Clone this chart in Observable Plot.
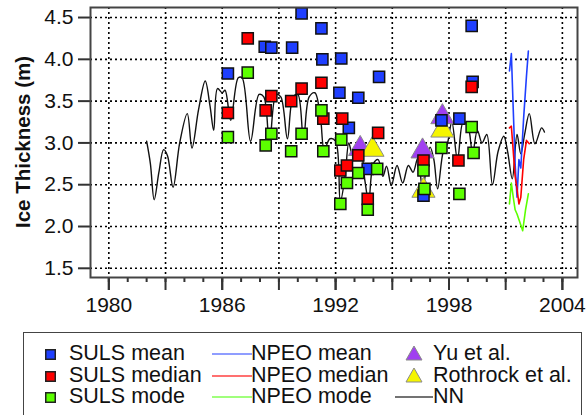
<!DOCTYPE html>
<html><head><meta charset="utf-8">
<script src="https://cdn.jsdelivr.net/npm/d3@7"></script>
<script src="https://cdn.jsdelivr.net/npm/@observablehq/plot@0.6"></script>
<style>
body{margin:0;background:#fff;font-family:"Liberation Sans",Arial,sans-serif;}
#chart{position:absolute;left:0;top:0;}
.lg{position:absolute;font-size:21.5px;line-height:18px;color:#111;white-space:nowrap;}
.sw{position:absolute;overflow:visible;}
#lgbox{position:absolute;left:23px;top:332px;width:559px;height:100px;border:1.5px solid #444;box-sizing:border-box;}
</style></head><body>
<div id="chart"></div>
<div id="lgbox"></div>
<div id="legend"></div>
<script>
// ---- data ----
const sulsMeanYear = [1986.3, 1988.25, 1988.6, 1989.7, 1990.2, 1991.25, 1991.3, 1992.3, 1992.2, 1993.2, 1992.7, 1993.7, 1994.3, 1996.65, 1997.6, 1998.55, 1999.2, 1999.25];
const sulsMean     = [3.83, 4.15, 4.14, 4.14, 4.55, 4.37, 4.00, 4.01, 3.60, 3.54, 3.18, 2.69, 3.79, 2.37, 3.27, 3.29, 4.40, 3.73];

const sulsMedianYear = [1986.3, 1987.35, 1988.3, 1988.6, 1989.65, 1990.2, 1991.25, 1991.35, 1992.35, 1992.25, 1992.6, 1993.2, 1993.7, 1994.25, 1996.65, 1998.5, 1999.2];
const sulsMedian     = [3.36, 4.25, 3.39, 3.56, 3.50, 3.65, 3.72, 3.29, 3.29, 2.67, 2.73, 2.85, 2.33, 3.12, 2.79, 2.79, 3.67];

const sulsModeYear = [1986.3, 1987.35, 1988.3, 1988.6, 1989.65, 1990.2, 1991.25, 1991.35, 1992.3, 1992.25, 1992.6, 1993.2, 1993.7, 1994.2, 1996.65, 1996.7, 1997.6, 1998.55, 1999.2, 1999.3];
const sulsMode     = [3.07, 3.84, 2.97, 3.11, 2.90, 3.11, 3.39, 2.90, 3.04, 2.27, 2.52, 2.64, 2.20, 2.69, 2.67, 2.45, 2.94, 2.39, 3.19, 2.88];

const yuYear = [1993.3, 1996.6, 1997.65];
const yu     = [2.93, 2.90, 3.31];
const rothrockYear = [1993.95, 1996.65, 1997.65];
const rothrock     = [2.92, 2.43, 3.15];

const npeoMeanYear = [2001.2, 2001.3, 2001.4, 2001.5, 2001.6, 2001.7, 2001.8, 2001.95, 2002.1, 2002.2];
const npeoMean     = [3.86, 4.07, 3.40, 2.75, 2.35, 2.80, 2.70, 3.30, 3.80, 4.10];
const npeoMedianYear = [2001.2, 2001.3, 2001.4, 2001.5, 2001.6, 2001.7, 2001.8, 2001.95, 2002.1, 2002.25];
const npeoMedian     = [3.18, 3.20, 2.90, 2.60, 2.45, 2.27, 2.35, 2.80, 3.03, 2.99];
const npeoModeYear = [2001.2, 2001.3, 2001.4, 2001.5, 2001.6, 2001.75, 2001.9, 2002.05, 2002.2];
const npeoMode     = [2.27, 2.52, 2.35, 2.20, 2.15, 2.05, 1.95, 2.20, 2.39];

const nnYear = [1982.0,1982.2,1982.4,1982.65,1982.9,1983.1,1983.4,1983.75,1984.15,1984.4,1984.75,1985.1,1985.35,1985.55,1985.75,1986.0,1986.15,1986.45,1986.85,1987.05,1987.5,1987.95,1988.2,1988.5,1988.85,1989.1,1989.45,1989.75,1990.0,1990.3,1990.6,1990.9,1991.2,1991.4,1991.7,1992.0,1992.25,1992.5,1992.7,1992.9,1993.1,1993.3,1993.55,1993.75,1994.0,1994.25,1994.5,1994.7,1994.95,1995.25,1995.55,1995.85,1996.1,1996.35,1996.6,1996.8,1997.0,1997.2,1997.4,1997.7,1997.9,1998.15,1998.45,1998.75,1999.0,1999.25,1999.5,1999.75,2000.0,2000.3,2000.6,2000.9,2001.1,2001.35,2001.6,2001.8,2002.0,2002.25,2002.55,2002.9,2003.05];
const nnValue = [3.02,2.75,2.32,2.65,2.92,2.85,2.47,3.00,3.35,2.94,3.40,3.74,3.45,3.15,3.65,3.60,3.63,3.27,3.78,3.78,3.02,3.58,3.55,3.00,3.58,3.55,3.05,3.55,3.58,3.05,3.55,3.60,3.30,2.92,3.05,3.02,2.30,2.60,3.00,2.85,2.90,2.95,2.55,2.30,2.75,2.80,2.60,2.72,2.49,2.73,2.52,2.73,2.65,2.82,2.45,2.70,2.95,2.80,2.45,2.90,2.98,3.25,2.80,3.25,3.20,2.88,3.15,3.00,3.10,2.50,2.90,3.08,2.90,2.57,3.10,2.87,3.10,3.35,2.99,3.18,3.13];

const yTicks = [1.5, 2.0, 2.5, 3.0, 3.5, 4.0, 4.5];
const xGridTicks = [1980, 1983, 1986, 1989, 1992, 1995, 1998, 2001, 2004];
const xLabelTicks = [1980, 1986, 1992, 1998, 2004];
const xMinorTicks = d3.range(1980, 2005);

const legendCol1 = ["SULS mean", "SULS median", "SULS mode"];
const legendCol2 = ["NPEO mean", "NPEO median", "NPEO mode"];
const legendCol3 = ["Yu et al.", "Rothrock et al.", "NN"];
const yLabel = "Ice Thickness (m)";

// ---- colours ----
const cBlue = "#1f3fff", cRed = "#ff0000", cGreen = "#5cff00", cPurple = "#a040f0", cYellow = "#f5f500";

const rows = (xs, ys) => xs.map((x, i) => ({x, y: ys[i]}));
const sq = {x: "x", y: "y", symbol: "square", r: 6.3, stroke: "#111", strokeWidth: 1.5};
const tri = {x: "x", y: "y", symbol: "triangle", r: 8.6, stroke: "#8a8a8a", strokeWidth: 1};
const axisStyle = {stroke: "#333", strokeWidth: 2, label: null};

const plot = Plot.plot({
  width: 587, height: 325,
  marginLeft: 90, marginRight: 10, marginTop: 7, marginBottom: 48,
  x: {domain: [1979.03, 2004.8]},
  y: {domain: [1.39, 4.62]},
  style: {fontFamily: '"Liberation Sans", Arial, sans-serif', background: "white", color: "#111"},
  marks: [
    Plot.gridX(xGridTicks, {stroke: "#000", strokeOpacity: 1, strokeWidth: 1.6, strokeDasharray: "2,3"}),
    Plot.gridY(yTicks, {stroke: "#000", strokeOpacity: 1, strokeWidth: 1.6, strokeDasharray: "2,3"}),
    Plot.axisX(xMinorTicks, {...axisStyle, tickSize: 5, tickFormat: () => ""}),
    Plot.axisX(xGridTicks, {...axisStyle, tickSize: 13, tickFormat: () => ""}),
    Plot.axisX(xLabelTicks, {...axisStyle, tickSize: 13, tickPadding: 7, fontSize: 21, tickFormat: "d"}),
    Plot.axisY(yTicks, {...axisStyle, tickSize: 12, tickPadding: 5, fontSize: 21, tickFormat: ".1f"}),
    Plot.line(rows(nnYear, nnValue), {x: "x", y: "y", stroke: "#111", strokeWidth: 1.4, curve: "catmull-rom"}),
    Plot.line(rows(npeoMeanYear, npeoMean), {x: "x", y: "y", stroke: cBlue, strokeWidth: 1.6}),
    Plot.line(rows(npeoMedianYear, npeoMedian), {x: "x", y: "y", stroke: cRed, strokeWidth: 1.6}),
    Plot.line(rows(npeoModeYear, npeoMode), {x: "x", y: "y", stroke: cGreen, strokeWidth: 1.6}),
    Plot.dot(rows(yuYear, yu), {...tri, fill: cPurple}),
    Plot.dot(rows(rothrockYear, rothrock), {...tri, fill: cYellow}),
    Plot.dot(rows(sulsMeanYear, sulsMean), {...sq, fill: cBlue}),
    Plot.dot(rows(sulsMedianYear, sulsMedian), {...sq, fill: cRed}),
    Plot.dot(rows(sulsModeYear, sulsMode), {...sq, fill: cGreen}),
    Plot.frame({stroke: "#444", strokeWidth: 2})
  ]
});
d3.select(plot).append("text")
  .attr("transform", "translate(30,142) rotate(-90)")
  .attr("text-anchor", "middle")
  .attr("font-size", 20.5).attr("font-weight", "bold").attr("fill", "#111")
  .text(yLabel);
document.getElementById("chart").appendChild(plot);

// ---- legend (HTML below the SVG) ----
const lg = document.getElementById("legend");
const rowCenters = [354, 375.5, 397];
function addText(txt, left, cy) {
  const s = document.createElement("span");
  s.className = "lg"; s.textContent = txt;
  s.style.left = left + "px"; s.style.top = (cy - 10) + "px";
  lg.appendChild(s);
}
function addSvg(left, top, w, h, inner) {
  const ns = "http://www.w3.org/2000/svg";
  const s = document.createElementNS(ns, "svg");
  s.setAttribute("class", "sw"); s.setAttribute("width", w); s.setAttribute("height", h);
  s.style.left = left + "px"; s.style.top = top + "px";
  s.innerHTML = inner; lg.appendChild(s);
}
const sqCols = [cBlue, cRed, cGreen];
const lnCols = ["#6a7dff", "#ff4040", "#80ff50"];
legendCol1.forEach((t, i) => {
  const cy = rowCenters[i];
  addSvg(45, cy - 5, 11, 11, `<rect x="0.75" y="0.75" width="9.5" height="9.5" fill="${sqCols[i]}" stroke="#222" stroke-width="1.5"/>`);
  addText(t, 69, cy);
});
legendCol2.forEach((t, i) => {
  const cy = rowCenters[i];
  addSvg(212, cy - 2, 40, 4, `<line x1="0" y1="2" x2="40" y2="2" stroke="${lnCols[i]}" stroke-width="1.6"/>`);
  addText(t, 251, cy);
});
const triCols = [cPurple, cYellow];
legendCol3.forEach((t, i) => {
  const cy = rowCenters[i];
  if (i < 2) addSvg(405, cy - 9, 18, 16, `<path d="M9,1 L17,15 L1,15 Z" fill="${triCols[i]}" stroke="#8a8a8a" stroke-width="1"/>`);
  else addSvg(395, cy - 2, 38, 4, `<line x1="0" y1="2" x2="38" y2="2" stroke="#444" stroke-width="1.6"/>`);
  addText(t, 433, cy);
});
</script>
</body></html>
